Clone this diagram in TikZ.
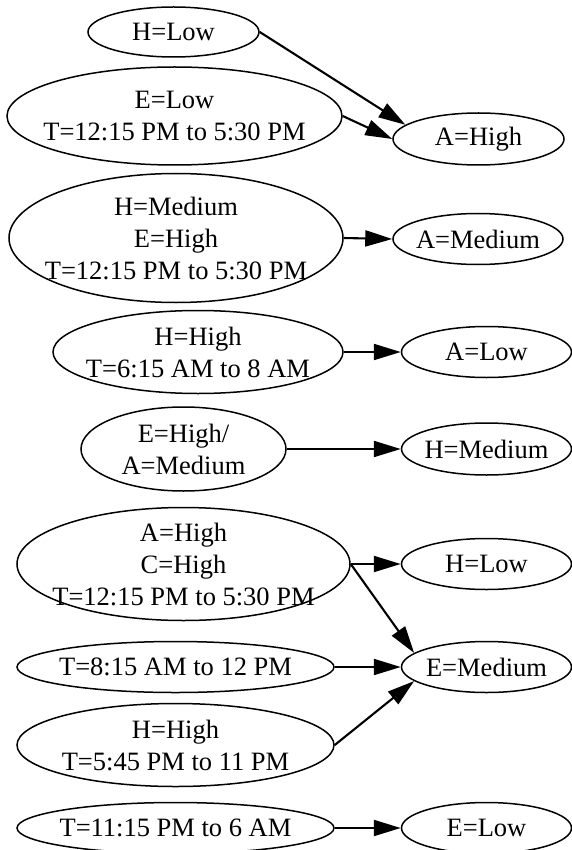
\documentclass[tikz,border=0pt]{standalone}
\usepackage{fontspec}
\setmainfont{Liberation Serif}
\usetikzlibrary{shapes.geometric,arrows.meta}
\begin{document}
\begin{tikzpicture}[x=1pt,y=-1pt,
  ell/.style={draw, ellipse, line width=1.5pt, inner sep=0pt},
  txt/.style={align=center, inner sep=0pt, font=\fontsize{26.5}{32}\selectfont},
  edge/.style={line width=2.1pt, -{Triangle[length=27pt,width=16pt]}}]
\useasboundingbox (0,0) rectangle (571,850);
% left column
\node[ell, minimum width=171pt, minimum height=50pt]  (hlow)   at (173.5,32)  {};
\node[ell, minimum width=335pt, minimum height=98pt]  (elow)   at (174.5,116) {};
\node[ell, minimum width=334pt, minimum height=129pt] (hmed3)  at (176,238)   {};
\node[ell, minimum width=290pt, minimum height=83pt]  (hhigh1) at (198,352) {};
\node[ell, minimum width=205pt, minimum height=84pt]  (ehigh)  at (183.5,449) {};
\node[ell, minimum width=333pt, minimum height=113pt] (achigh) at (183.5,564) {};
\node[ell, minimum width=317pt, minimum height=51pt]  (t815)   at (175.5,667) {};
\node[ell, minimum width=317pt, minimum height=83pt]  (hhigh2) at (175.5,745) {};
\node[ell, minimum width=317pt, minimum height=51pt]  (t1115)  at (175.5,828) {};
% right column
\node[ell, minimum width=171pt, minimum height=52pt]  (ahigh)  at (478.5,139) {};
\node[ell, minimum width=170pt, minimum height=51pt]  (amed)   at (478,239) {};
\node[ell, minimum width=170pt, minimum height=51pt]  (alow)   at (486.5,352) {};
\node[ell, minimum width=170pt, minimum height=52pt]  (hmed)   at (486.5,449) {};
\node[ell, minimum width=170pt, minimum height=51pt]  (hlowr)  at (486.5,564) {};
\node[ell, minimum width=170pt, minimum height=51pt]  (emed)   at (486.5,667) {};
\node[ell, minimum width=170pt, minimum height=51pt]  (elowr)  at (486.5,828) {};
% texts
\node[txt] (hlow-t)   at (hlow.center)   {H=Low};
\node[txt] (elow-t)   at (elow.center)   {E=Low\\T=12:15 PM to 5:30 PM};
\node[txt] (hmed3-t)  at (hmed3.center)  {H=Medium\\E=High\\T=12:15 PM to 5:30 PM};
\node[txt] (hhigh1-t) at (hhigh1.center) {H=High\\T=6:15 AM to 8 AM};
\node[txt] (ehigh-t)  at (ehigh.center)  {E=High/\\A=Medium};
\node[txt] (achigh-t) at (achigh.center) {A=High\\C=High\\T=12:15 PM to 5:30 PM};
\node[txt] (t815-t)   at (t815.center)   {T=8:15 AM to 12 PM};
\node[txt] (hhigh2-t) at (hhigh2.center) {H=High\\T=5:45 PM to 11 PM};
\node[txt] (t1115-t)  at (t1115.center)  {T=11:15 PM to 6 AM};
\node[txt] (ahigh-t)  at (ahigh.center)  {A=High};
\node[txt] (amed-t)   at (amed.center)   {A=Medium};
\node[txt] (alow-t)   at (alow.center)   {A=Low};
\node[txt] (hmed-t)   at (hmed.center)   {H=Medium};
\node[txt] (hlowr-t)  at (hlowr.center)  {H=Low};
\node[txt] (emed-t)   at (emed.center)   {E=Medium};
\node[txt] (elowr-t)  at (elowr.center)  {E=Low};
% edges
\draw[edge] (hlow.east) -- (ahigh.169);
\draw[edge] (elow.east) -- (ahigh.west);
\draw[edge] (hmed3.east) -- (amed.west);
\draw[edge] (hhigh1.east) -- (alow.west);
\draw[edge] (ehigh.east) -- (hmed.west);
\draw[edge] (achigh.east) -- (hlowr.west);
\draw[edge] (achigh.east) -- (emed.169);
\draw[edge] (t815.east) -- (emed.west);
\draw[edge] (hhigh2.east) -- (emed.191);
\draw[edge] (t1115.east) -- (elowr.west);
\end{tikzpicture}
\end{document}
